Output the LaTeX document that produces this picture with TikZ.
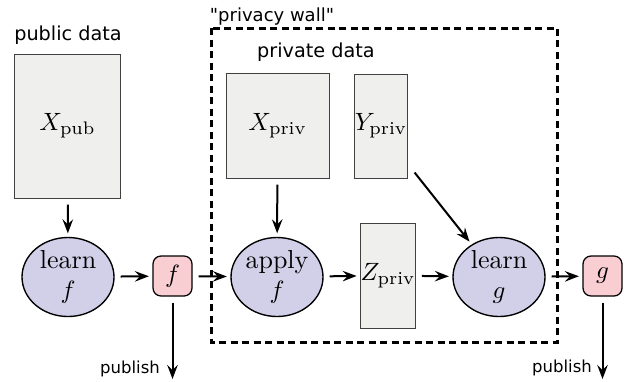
\documentclass[tikz,border=0pt]{standalone}
\usepackage{fontspec}
\newfontfamily\labelfont{DejaVu Sans}
\usepackage{xcolor}
\usepackage{tikz}
\usetikzlibrary{arrows.meta,shapes}
\definecolor{boxgray}{RGB}{239,240,238}
\definecolor{procblue}{RGB}{210,208,232}
\definecolor{fnpink}{RGB}{249,206,211}
\tikzstyle{databox}=[rectangle,draw=black!75,fill=boxgray,line width=0.4pt,inner sep=0pt]
\tikzstyle{proc}=[ellipse,draw,fill=procblue,line width=0.55pt,minimum width=36.8pt,minimum height=31.6pt,inner sep=0pt,align=center,font=\fontsize{10.4}{12}\selectfont]
\tikzstyle{fnbox}=[rectangle,rounded corners=3.2pt,draw,fill=fnpink,line width=0.5pt,minimum width=15.6pt,minimum height=16pt,inner sep=0pt,font=\fontsize{10.4}{12}\selectfont]
\tikzstyle{flow} = [draw,line width=0.8pt,-{Stealth[length=5.6pt,width=4.2pt,inset=2pt]},shorten <=2.4pt,shorten >=1.4pt]
\tikzstyle{wall} = [draw,line width=1.2pt,dash pattern=on 2.8pt off 1.8pt]
\tikzset{lbl/.style={font=\labelfont\fontsize{7.7}{9}\selectfont,inner sep=0pt}}

\begin{document}
\begin{tikzpicture}[x=0.4pt,y=-0.4pt]

  \useasboundingbox (0,0) rectangle (624,381);

  % public side
  \node[lbl] (pubtitle) at (68,35) {public data};
  \node[databox,minimum width=42pt,minimum height=57.6pt,font=\fontsize{10.4}{12}\selectfont] (Xpub) at (67.5,126) {$X_{\mathrm{pub}}$};
  \node[proc] (lf) at (68,277) {learn\\$f$};
  \node[fnbox] (f) at (172.5,276) {$f$};

  % privacy wall
  \draw[wall] (211,28) rectangle (557,342);
  \node[lbl,font=\labelfont\fontsize{7.2}{9}\selectfont] (walltitle) at (272,17) {"privacy wall"};
  \node[lbl] (privtitle) at (316,52) {private data};

  \node[databox,minimum width=41.2pt,minimum height=42pt,font=\fontsize{10.4}{12}\selectfont] (Xpriv) at (277.5,125.5) {$X_{\mathrm{priv}}$};
  \node[databox,minimum width=20.8pt,minimum height=41.6pt,font=\fontsize{10.4}{12}\selectfont] (Ypriv) at (381,126) {$Y_{\mathrm{priv}}$};
  \node[proc] (af) at (277,277) {apply\\$f$};
  \node[databox,minimum width=21.2pt,minimum height=42pt,font=\fontsize{10.4}{12}\selectfont] (Zpriv) at (388,275.5) {$Z_{\mathrm{priv}}$};
  \node[proc] (lg) at (499,277) {learn\\$g$};
  \node[fnbox] (g) at (602.5,276) {$g$};

  % published outputs
  \coordinate (fpub) at (172.5,379);
  \coordinate (gpub) at (602.5,379);
  \node[lbl,font=\labelfont\fontsize{6.6}{8}\selectfont] (fpubtxt) at (130,369) {publish};
  \node[lbl,font=\labelfont\fontsize{6.6}{8}\selectfont] (gpubtxt) at (562,368) {publish};

  \foreach \source/\dest in {Xpub/lf, Xpriv/af, lf/f, f/af, af/Zpriv, Zpriv/lg, lg/g}
         \path[flow] (\source) -- (\dest);

  \path[flow,shorten <=0pt] ([shift={(2.8pt,2.4pt)}]Ypriv.south east) -- (lg.130);
  \path[flow,shorten >=0pt] (f) -- (fpub);
  \path[flow,shorten >=0pt] (g) -- (gpub);

\end{tikzpicture}
\end{document}
